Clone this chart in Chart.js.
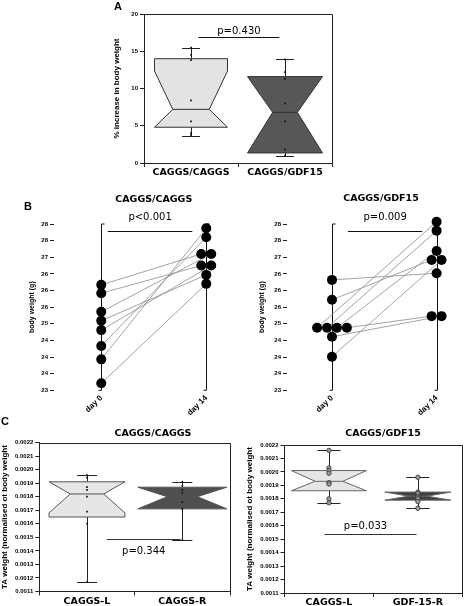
<!DOCTYPE html>
<html>
<head>
<meta charset="utf-8">
<title>Body weight and TA weight panels</title>
<script src="https://cdn.jsdelivr.net/npm/chart.js@4.4.1/dist/chart.umd.min.js"></script>
<style>
  html, body { margin: 0; padding: 0; background: #fff; }
  #figure { position: relative; width: 473px; height: 606px; overflow: hidden; }
  #figure canvas { position: absolute; left: 0; top: 0; }
</style>
</head>
<body>
<div id="figure">
  <canvas id="panelA" width="473" height="606"></canvas>
  <canvas id="panelB1" width="473" height="606"></canvas>
  <canvas id="panelB2" width="473" height="606"></canvas>
  <canvas id="panelC1" width="473" height="606"></canvas>
  <canvas id="panelC2" width="473" height="606"></canvas>
</div>
<script>
// A: % increase in body weight
const aGroups = ["CAGGS/CAGGS", "CAGGS/GDF15"];
const aCaggsPoints = [15.5, 14.5, 13.8, 8.4, 5.6, 4.0, 3.7];
const aGdf15Points = [13.9, 12.2, 11.3, 8.0, 5.6, 1.8, 1.0];
const aWhiskerLow = [3.6, 0.9];
const aQ1 = [4.8, 1.35];
const aMedian = [7.2, 6.8];
const aQ3 = [14.0, 11.6];
const aWhiskerHigh = [15.5, 13.9];
const aNotchLow = [4.8, 1.35];
const aNotchHigh = [12.35, 11.6];

// B: body weight, day 0 vs day 14 (pairs = day 14 index for each day 0 mouse)
const bDays = ["day 0", "day 14"];
const bTickLabels = ["23", "24", "24", "24", "25", "26", "26", "26", "27", "28", "28"];
const bCaggsDay0 = [26.17, 25.92, 25.36, 25.09, 24.81, 24.33, 23.93, 23.21];
const bCaggsDay14 = [27.87, 27.60, 27.10, 27.10, 26.75, 26.75, 26.47, 26.20];
const bCaggsPairs = [2, 4, 3, 6, 5, 1, 0, 7];
const bGdfDay0 = [26.32, 25.72, 24.88, 24.88, 24.88, 24.88, 24.61, 24.01];
const bGdfDay14 = [28.07, 27.80, 27.19, 26.92, 26.92, 26.52, 25.23, 25.23];
const bGdfPairs = [5, 3, 0, 1, 2, 6, 7, 4];

// C: TA weight normalised to body weight
const c1Groups = ["CAGGS-L", "CAGGS-R"];
const c1LeftPoints = [0.00196, 0.00194, 0.00187, 0.00185, 0.00180, 0.00169, 0.00160, 0.00117];
const c1RightPoints = [0.00191, 0.00188, 0.00185, 0.00183, 0.00176, 0.00171, 0.00148];
const c1WhiskerLow = [0.00117, 0.00148];
const c1Q1 = [0.00165, 0.00171];
const c1Median = [0.00182, 0.00180];
const c1Q3 = [0.00191, 0.00187];
const c1WhiskerHigh = [0.00196, 0.00191];
const c1NotchLow = [0.00168, 0.00171];
const c1NotchHigh = [0.00191, 0.00187];

const c2Groups = ["CAGGS-L", "GDF-15-R"];
const c2LeftPoints = [0.00216, 0.00203, 0.00201, 0.00199, 0.00192, 0.00191, 0.00180, 0.00177];
const c2RightPoints = [0.00196, 0.00185, 0.00184, 0.00182, 0.00181, 0.00180, 0.00178, 0.00173];
const c2WhiskerLow = [0.00177, 0.00173];
const c2Q1 = [0.00186, 0.00179];
const c2Median = [0.00193, 0.00182];
const c2Q3 = [0.00201, 0.00185];
const c2WhiskerHigh = [0.00216, 0.00196];

const tickFont = { family: "'Liberation Sans', Arial, sans-serif", weight: "bold", size: 6 };
const groupFont = { family: "'DejaVu Sans', sans-serif", weight: "bold", size: 9.5 };
const dayFont = { family: "'Liberation Sans', Arial, sans-serif", weight: "bold", size: 8 };

function boxList(low, q1, med, q3, high, nLow, nHigh, style) {
  return q1.map((_, i) => ({
    low: low[i], q1: q1[i], median: med[i], q3: q3[i], high: high[i],
    notchLow: nLow[i], notchHigh: nHigh[i],
    width: style.width[i], notch: style.notch[i], fill: style.fill[i],
    stroke: style.stroke, cap: style.cap
  }));
}

// points keyed by group label so the category scale puts them on the right box
function pointData(groups, lists) {
  const out = [];
  lists.forEach((vals, g) => vals.forEach((v) => out.push({ x: groups[g], y: v })));
  return out;
}

// spread equal values sideways so the dots sit next to each other
function swarm(values, base, step) {
  const count = {}, used = {};
  values.forEach((v) => { count[v] = (count[v] || 0) + 1; });
  return values.map((v) => {
    const k = used[v] || 0;
    used[v] = k + 1;
    return { x: base + (k - (count[v] - 1) / 2) * step, y: v };
  });
}

const crisp = (v) => Math.round(v) + 0.5;

const notesPlugin = {
  id: "notes",
  beforeDatasetsDraw(chart, args, o) {
    const { ctx } = chart;
    const xs = chart.scales.x, ys = chart.scales.y;
    ctx.save();
    ctx.lineWidth = 1;
    if (o.dayLines) {
      ctx.strokeStyle = "#111";
      o.dayLines.forEach((d) => {
        const x = crisp(xs.getPixelForValue(d));
        const top = ys.getPixelForValue(ys.max), bottom = ys.getPixelForValue(ys.min);
        ctx.beginPath();
        ctx.moveTo(x + 3, top); ctx.lineTo(x, top); ctx.lineTo(x, bottom); ctx.lineTo(x - 3, bottom);
        ctx.stroke();
      });
    }
    (o.boxes || []).forEach((b, i) => {
      const cx = xs.getPixelForValue(i);
      const half = b.width / 2, nh = half * b.notch;
      const yq3 = ys.getPixelForValue(b.q3), yq1 = ys.getPixelForValue(b.q1);
      const ym = ys.getPixelForValue(b.median);
      const ynh = ys.getPixelForValue(Math.min(b.notchHigh, b.q3));
      const ynl = ys.getPixelForValue(Math.max(b.notchLow, b.q1));
      const yhi = ys.getPixelForValue(b.high), ylo = ys.getPixelForValue(b.low);
      ctx.strokeStyle = "#222";
      ctx.beginPath();
      ctx.moveTo(crisp(cx), yq3); ctx.lineTo(crisp(cx), yhi);
      ctx.moveTo(crisp(cx), yq1); ctx.lineTo(crisp(cx), ylo);
      ctx.moveTo(cx - b.cap / 2, crisp(yhi)); ctx.lineTo(cx + b.cap / 2, crisp(yhi));
      ctx.moveTo(cx - b.cap / 2, crisp(ylo)); ctx.lineTo(cx + b.cap / 2, crisp(ylo));
      ctx.stroke();
      ctx.beginPath();
      ctx.moveTo(cx - half, yq3); ctx.lineTo(cx + half, yq3);
      ctx.lineTo(cx + half, ynh); ctx.lineTo(cx + nh, ym); ctx.lineTo(cx + half, ynl);
      ctx.lineTo(cx + half, yq1); ctx.lineTo(cx - half, yq1);
      ctx.lineTo(cx - half, ynl); ctx.lineTo(cx - nh, ym); ctx.lineTo(cx - half, ynh);
      ctx.closePath();
      ctx.fillStyle = b.fill;
      ctx.fill();
      ctx.strokeStyle = b.stroke;
      ctx.stroke();
      ctx.beginPath();
      ctx.moveTo(cx - nh, ym); ctx.lineTo(cx + nh, ym);
      ctx.stroke();
    });
    ctx.restore();
  },
  afterDraw(chart, args, o) {
    const { ctx, chartArea: ca } = chart;
    const xs = chart.scales.x, ys = chart.scales.y;
    ctx.save();
    ctx.lineWidth = 1;
    ctx.strokeStyle = "#222";
    if (o.frame) {
      ctx.beginPath();
      ctx.moveTo(ca.left, crisp(ca.top)); ctx.lineTo(crisp(ca.right), crisp(ca.top));
      ctx.lineTo(crisp(ca.right), ca.bottom);
      ctx.stroke();
    }
    ctx.fillStyle = "#000";
    ctx.textAlign = "center";
    ctx.textBaseline = "middle";
    if (o.title) {
      ctx.font = "bold 9.5px 'DejaVu Sans', sans-serif";
      ctx.fillText(o.title.text, (ca.left + ca.right) / 2 + o.title.dx, ca.top + o.title.dy);
    }
    if (o.p) {
      const py = crisp(ys.getPixelForValue(o.p.value));
      const x1 = xs.getPixelForValue(o.p.from), x2 = xs.getPixelForValue(o.p.to);
      ctx.strokeStyle = o.p.color;
      ctx.beginPath();
      ctx.moveTo(x1, py); ctx.lineTo(x2, py);
      ctx.stroke();
      ctx.font = "10px 'DejaVu Sans', sans-serif";
      ctx.fillText(o.p.text, (x1 + x2) / 2 + (o.p.dx || 0), py + o.p.dy);
    }
    if (o.letter) {
      ctx.font = "bold 11px 'Liberation Sans', Arial, sans-serif";
      ctx.fillText(o.letter.text, o.letter.x, o.letter.y);
    }
    ctx.restore();
  }
};
Chart.register(notesPlugin);

function valueAxis(o) {
  return {
    type: "linear",
    min: o.min,
    max: o.max,
    border: { display: o.border, color: "#222", width: 1 },
    grid: { drawOnChartArea: false, tickLength: 4, tickColor: "#222", tickWidth: 1 },
    ticks: { stepSize: o.step, font: tickFont, color: "#000", padding: 2, callback: o.labels },
    title: {
      display: true, text: o.title, color: "#000", padding: 0,
      font: { family: "'Liberation Sans', Arial, sans-serif", weight: "bold", size: o.titleSize, lineHeight: 1.2 }
    },
    afterFit: (scale) => { scale.width = o.width; }
  };
}

function groupAxis(labels, height) {
  return {
    type: "category",
    labels: labels,
    offset: true,
    border: { display: true, color: "#222", width: 1 },
    grid: { offset: true, drawOnChartArea: false, tickLength: 4, tickColor: "#222" },
    ticks: { font: groupFont, color: "#000", padding: 0, maxRotation: 0, autoSkip: false },
    afterFit: (scale) => { scale.height = height; }
  };
}

function baseOptions(padding, scales, notes) {
  return {
    responsive: false,
    animation: false,
    devicePixelRatio: 1,
    layout: { padding: padding },
    scales: scales,
    plugins: { legend: { display: false }, tooltip: { enabled: false }, notes: notes }
  };
}

// Panel A
new Chart(document.getElementById("panelA"), {
  type: "scatter",
  data: {
    datasets: [{
      data: pointData(aGroups, [aCaggsPoints, aGdf15Points]),
      pointStyle: "rect", pointRadius: 1.2, backgroundColor: "#111", borderWidth: 0, clip: false
    }]
  },
  options: baseOptions(
    { left: 112, top: 14, right: 141, bottom: 423 },
    {
      x: groupAxis(aGroups, 20),
      y: valueAxis({ min: 0, max: 20, step: 5, border: true, title: "% increase in body weight", titleSize: 8, width: 32 })
    },
    {
      frame: true,
      letter: { text: "A", x: 118, y: 7 },
      boxes: boxList(aWhiskerLow, aQ1, aMedian, aQ3, aWhiskerHigh, aNotchLow, aNotchHigh,
        { width: [73, 75], notch: [0.5, 0.33], fill: ["#e3e3e3", "#575757"], stroke: "#333", cap: 18 }),
      p: { text: "p=0.430", value: 16.85, from: 0.08, to: 0.94, dy: -6, color: "#111" }
    }
  )
});

// Panel B
function weightChart(id, day0, day14, pairs, pad, yWidth, xMin, xMax, notes) {
  const p0 = swarm(day0, 0, 0.095);
  const p14 = swarm(day14, 1, 0.095);
  const links = pairs.map((j, i) => ({
    data: [p0[i], p14[j]], showLine: true, pointRadius: 0,
    borderColor: "#8c8c8c", borderWidth: 0.8, order: 1, clip: false
  }));
  return new Chart(document.getElementById(id), {
    type: "scatter",
    data: {
      datasets: [{
        data: p0.concat(p14), pointRadius: 5, backgroundColor: "#000",
        borderWidth: 0, order: 0, clip: false
      }].concat(links)
    },
    options: baseOptions(pad, {
      x: {
        type: "linear", min: xMin, max: xMax,
        border: { display: false },
        grid: { display: false, drawTicks: false },
        afterBuildTicks: (scale) => { scale.ticks = bDays.map((_, i) => ({ value: i })); },
        ticks: { callback: (v) => bDays[v], minRotation: 45, maxRotation: 45, autoSkip: false, font: dayFont, color: "#000", padding: 3 },
        afterFit: (scale) => { scale.height = 25; }
      },
      y: valueAxis({
        min: 23, max: 28, step: 0.5, border: false, labels: (v, i) => bTickLabels[i],
        title: "body weight (g)", titleSize: 7, width: yWidth
      })
    }, notes)
  });
}

weightChart("panelB1", bCaggsDay0, bCaggsDay14, bCaggsPairs,
  { left: 27.5, top: 224, right: 219.5, bottom: 190.7 }, 26.5, -0.45, 1.45,
  {
    dayLines: [0, 1],
    letter: { text: "B", x: 28, y: 207 },
    title: { text: "CAGGS/CAGGS", dx: 0, dy: -24.7 },
    p: { text: "p<0.001", value: 27.8, from: 0.063, to: 0.867, dy: -14, color: "#111" }
  });

weightChart("panelB2", bGdfDay0, bGdfDay14, bGdfPairs,
  { left: 257.5, top: 224, right: 3.7, bottom: 190.7 }, 29.5, -0.43, 1.3,
  {
    dayLines: [0, 1],
    title: { text: "CAGGS/GDF15", dx: 3.5, dy: -25 },
    p: { text: "p=0.009", value: 27.8, from: 0.152, to: 0.863, dy: -14, color: "#111" }
  });

// Panel C
new Chart(document.getElementById("panelC1"), {
  type: "scatter",
  data: {
    datasets: [{
      data: pointData(c1Groups, [c1LeftPoints, c1RightPoints]),
      pointStyle: "rect", pointRadius: 1.2, backgroundColor: "#111", borderWidth: 0, clip: false
    }]
  },
  options: baseOptions(
    { left: 0.2, top: 442.5, right: 243, bottom: 0 },
    {
      x: groupAxis(c1Groups, 14.5),
      y: valueAxis({
        min: 0.0011, max: 0.0022, step: 0.0001, border: true, labels: (v) => v.toFixed(4),
        title: "TA weight (normalised ot body weight", titleSize: 8, width: 39.1
      })
    },
    {
      frame: true,
      letter: { text: "C", x: 5, y: 422 },
      title: { text: "CAGGS/CAGGS", dx: 18.3, dy: -8.5 },
      boxes: boxList(c1WhiskerLow, c1Q1, c1Median, c1Q3, c1WhiskerHigh, c1NotchLow, c1NotchHigh,
        { width: [76, 89], notch: [0.44, 0.34], fill: ["#e6e6e6", "#4f4f4f"], stroke: "#555", cap: 20 }),
      p: { text: "p=0.344", value: 0.00149, from: 0.21, to: 0.98, dy: 12, color: "#333" }
    }
  )
});

new Chart(document.getElementById("panelC2"), {
  type: "scatter",
  data: {
    datasets: [{
      data: pointData(c2Groups, [c2LeftPoints, c2RightPoints]),
      pointStyle: "circle", pointRadius: 2.2, backgroundColor: "#9a9a9a",
      borderColor: "#333", borderWidth: 0.8, clip: false
    }]
  },
  options: baseOptions(
    { left: 244.5, top: 445, right: 10.7, bottom: 0 },
    {
      x: groupAxis(c2Groups, 13),
      y: valueAxis({
        min: 0.0011, max: 0.0022, step: 0.0001, border: true, labels: (v) => v.toFixed(4),
        title: "TA weight (normalised ot body weight", titleSize: 8, width: 40
      })
    },
    {
      frame: true,
      title: { text: "CAGGS/GDF15", dx: 9.6, dy: -11 },
      boxes: boxList(c2WhiskerLow, c2Q1, c2Median, c2Q3, c2WhiskerHigh, c2Q1, c2Q3,
        { width: [75, 66], notch: [0.37, 0.28], fill: ["#e6e6e6", "#3f3f3f"], stroke: "#666", cap: 23 }),
      p: { text: "p=0.033", value: 0.00154, from: -0.05, to: 0.985, dx: -5, dy: -8, color: "#333" }
    }
  )
});
</script>
</body>
</html>
